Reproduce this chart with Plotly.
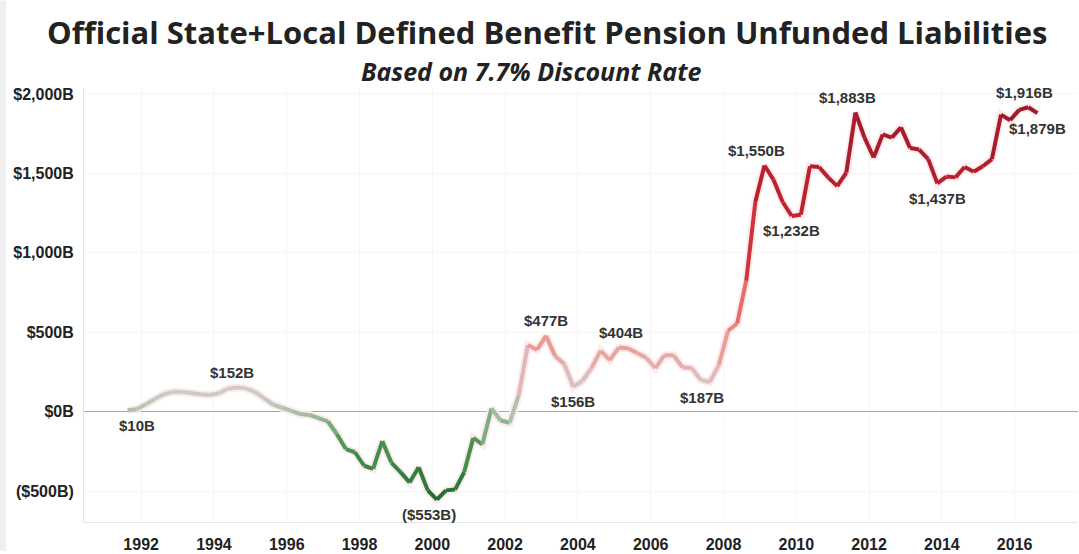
import plotly.graph_objects as go
from plotly.colors import sample_colorscale

# ---- data (quarterly, $ billions) ----
start_year = 1991.625
values = [10, 15, 45, 80, 110, 125, 125, 118, 110, 105,
          115, 145, 152, 147, 125, 85, 45, 25, 5, -15,
          -20, -40, -60, -140, -235, -255, -340, -360, -185, -320,
          -380, -445, -350, -495, -553, -495, -490, -380, -165, -205,
          20, -55, -70, 105, 420, 390, 477, 350, 300, 156,
          195, 275, 385, 325, 404, 400, 370, 340, 275, 355,
          355, 280, 275, 200, 187, 295, 510, 555, 825, 1320,
          1550, 1460, 1320, 1232, 1240, 1545, 1540, 1475, 1420, 1505,
          1883, 1725, 1600, 1745, 1725, 1790, 1660, 1650, 1590, 1437,
          1480, 1475, 1540, 1510, 1545, 1590, 1870, 1835, 1900, 1916,
          1879]
x_years = [start_year + 0.25 * i for i in range(len(values))]

year_ticks = list(range(1992, 2017, 2))
y_ticks = [-500, 0, 500, 1000, 1500, 2000]
y_ticktext = ["($500B)", "$0B", "$500B", "$1,000B", "$1,500B", "$2,000B"]

label_idx = [0, 12, 34, 46, 49, 54, 64, 70, 73, 80, 89, 99, 100]
label_pos = ["below", "above", "below", "above", "below", "above", "below",
             "above", "below", "above", "below", "above", "below"]
label_dx = [10, -5, -8, 0, 0, 2, -8, -8, 0, -8, 0, -4, 0]

title = "Official State+Local Defined Benefit Pension Unfunded Liabilities"
subtitle = "Based on 7.7% Discount Rate"

def fmt(v):
    return f"${v:,}B" if v >= 0 else f"(${-v:,}B)"

colorscale = [
    [0.0, "#1d6b34"],
    [0.15, "#4f9a57"],
    [0.24, "#b9c8b9"],
    [0.28, "#d0cccc"],
    [0.32, "#dcbcbc"],
    [0.42, "#ee8f88"],
    [0.70, "#c8242f"],
    [1.0, "#9a1a2c"],
]
vmin, vmax = -553, 1916

fig = go.Figure()

# light halo behind line
fig.add_trace(go.Scatter(x=x_years, y=values, mode="lines",
                         line=dict(color="rgba(255,232,232,0.9)", width=8),
                         hoverinfo="skip", showlegend=False))

for i in range(len(values) - 1):
    mid = (values[i] + values[i + 1]) / 2
    t = (mid - vmin) / (vmax - vmin)
    t = min(max(t, 0), 1)
    col = sample_colorscale(colorscale, [t])[0]
    fig.add_trace(go.Scatter(x=x_years[i:i + 2], y=values[i:i + 2], mode="lines",
                             line=dict(color=col, width=4),
                             hoverinfo="skip", showlegend=False))

for idx, pos, dx in zip(label_idx, label_pos, label_dx):
    fig.add_annotation(x=x_years[idx], y=values[idx], text="<b>" + fmt(values[idx]) + "</b>",
                       showarrow=False, yshift=15 if pos == "above" else -15,
                       xshift=dx,
                       font=dict(family="Liberation Sans, Arial", size=15, color="#333333"))

fig.add_annotation(xref="paper", yref="paper", x=(547 - 84) / 994, y=1 + 56 / 437,
                   xanchor="center", yanchor="middle", showarrow=False,
                   text="<b>" + title + "</b>",
                   font=dict(family="Open Sans, Arial", size=31, color="#222222"))
fig.add_annotation(xref="paper", yref="paper", x=(531 - 84) / 994, y=1 + 17 / 437,
                   xanchor="center", yanchor="middle", showarrow=False,
                   text="<b><i>" + subtitle + "</i></b>",
                   font=dict(family="Open Sans, Arial", size=25, color="#222222"))

fig.update_layout(
    width=1079, height=554,
    margin=dict(l=84, r=1, t=88, b=29),
    paper_bgcolor="white", plot_bgcolor="white",
    xaxis=dict(range=[1990.43, 2017.74], tickvals=year_ticks,
               ticktext=["<b>%d</b>" % y for y in year_ticks],
               showgrid=True, gridcolor="#f5f5f5", zeroline=False,
               showline=True, linecolor="#e6e6e6", ticks="", ticklabelstandoff=8,
               tickfont=dict(family="Liberation Sans Narrow, Arial Narrow, Arial", size=16,
                             color="#222222")),
    yaxis=dict(range=[-694, 2037.5], tickvals=y_ticks,
               ticktext=["<b>" + t + "</b>" for t in y_ticktext],
               showgrid=True, gridcolor="#f5f5f5", zeroline=True, zerolinecolor="#a8a8a8",
               zerolinewidth=1, showline=True, linecolor="#e3e3e3", ticks="",
               ticklabelstandoff=6,
               tickfont=dict(family="Liberation Sans, Arial", size=16, color="#222222")),
    font=dict(family="Liberation Sans, Arial"),
)

# light grey frame strip at the left image edge
fig.add_shape(type="rect", xref="paper", yref="paper", x0=-84 / 994, x1=-78 / 994,
              y0=-29 / 437, y1=1 + 88 / 437, fillcolor="#efefef", line_width=0, layer="below")

fig.write_html("out.html")
